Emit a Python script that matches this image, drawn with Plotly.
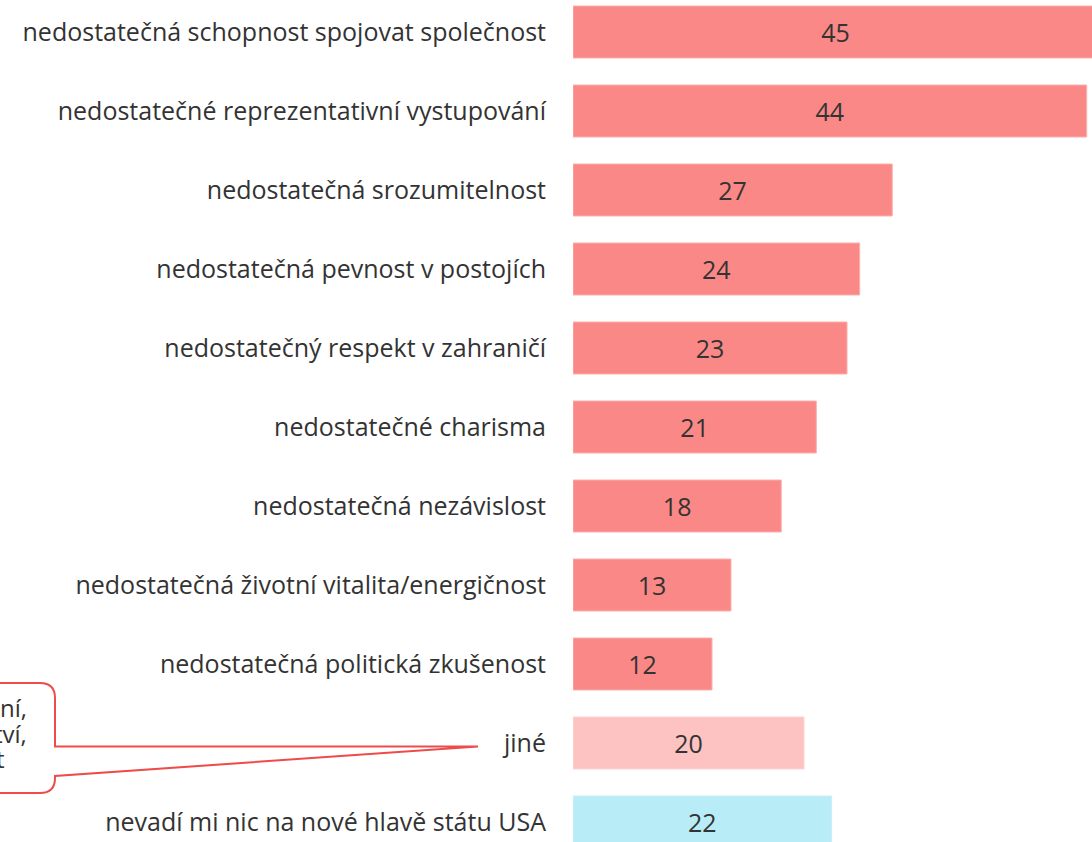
import plotly.graph_objects as go

categories = [
    "nedostatečná schopnost spojovat společnost",
    "nedostatečné reprezentativní vystupování",
    "nedostatečná srozumitelnost",
    "nedostatečná pevnost v postojích",
    "nedostatečný respekt v zahraničí",
    "nedostatečné charisma",
    "nedostatečná nezávislost",
    "nedostatečná životní vitalita/energičnost",
    "nedostatečná politická zkušenost",
    "jiné",
    "nevadí mi nic na nové hlavě státu USA",
]
values = [44.8, 43.83, 27.24, 24.46, 23.38, 20.76, 17.77, 13.48, 11.86, 19.71, 22.07]
colors = ["#FA8886"] * 9 + ["#FCC3C2", "#B8ECF6"]
edge_colors = ["#FBB0AE"] * 9 + ["#FDD3D2", "#C8F0F8"]
callout_lines = ["ní,", "tví,", "t"]

W, H = 1092, 842
L = 573
PW = W - L
SCALE = 11.72  # px per unit


def px(x):
    return (x - L) / PW


def py(y):
    return 1 - y / H


fig = go.Figure(go.Bar(
    x=values, y=categories, orientation="h",
    marker=dict(color=colors, line=dict(width=1, color=edge_colors)),
    texttemplate="%{x:.0f}", textposition="inside",
    insidetextanchor="middle",
    textfont=dict(size=25, color="#333333", family="Open Sans"),
    hoverinfo="skip",
))

# callout bubble
pts = [
    ("M", -30, 683), ("L", 40, 683), ("Q", 55, 683, 55, 698), ("L", 55, 746.5),
    ("L", 478, 746.5), ("L", 55, 776), ("L", 55, 778), ("Q", 55, 793, 40, 793),
    ("L", -30, 793),
]
path = ""
for p in pts:
    if p[0] == "Q":
        path += f"Q{px(p[1])},{py(p[2])} {px(p[3])},{py(p[4])} "
    else:
        path += f"{p[0]}{px(p[1])},{py(p[2])} "
path += "Z"
fig.add_shape(type="path", path=path, xref="paper", yref="paper",
              line=dict(color="#EE4B4B", width=2), fillcolor="white", layer="below")

line_ends = [(29, 707), (29, 733), (7, 758)]
for t, (xe, ye) in zip(callout_lines, line_ends):
    fig.add_annotation(text=t, x=px(xe), y=py(ye), xref="paper", yref="paper",
                       xanchor="right", yanchor="middle", showarrow=False,
                       font=dict(size=24, color="#333333", family="Open Sans"))

fig.update_layout(
    width=W, height=H,
    margin=dict(l=L, r=0, t=0, b=0),
    paper_bgcolor="white", plot_bgcolor="white",
    bargap=0.342, showlegend=False,
    font=dict(family="Open Sans", color="#333333"),
)
fig.update_xaxes(range=[0, PW / SCALE], visible=False)
fig.update_yaxes(range=[(H - 32) / 79, -32 / 79], ticks="", showgrid=False,
                 showline=False, zeroline=False, ticklabelstandoff=26,
                 tickfont=dict(size=25, color="#333333", family="Open Sans"))

fig.write_html("out.html", config={"displayModeBar": False},
               post_script="document.body.style.margin='0';document.body.style.overflow='hidden';")
